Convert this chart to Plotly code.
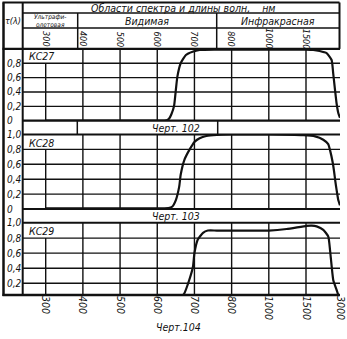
import numpy as np
import plotly.graph_objects as go

# Wavelength marks of the drawing (equally spaced along the axis), nm
NM_TICKS = [300, 400, 500, 600, 700, 800, 1000, 1500, 3000]
NM_LABELS = ["300", "400", "500", "600", "700", "800", "1000", "1500", "3000"]
HEADER_LABELS = ["300", "400", "500", "600", "700", "800", "1000", "1500"]

# Spectral transmittance of the filters
KC27_NM = [300, 600, 625, 632, 638, 645, 650, 654, 663, 677, 695, 714, 760,
           1000, 1500, 1820, 2100, 2410, 2630, 2700, 2780, 2850, 2930, 3000]
KC27_T = [0.0, 0.0, 0.005, 0.03, 0.09, 0.2, 0.43, 0.61, 0.8, 0.915, 0.96, 0.985, 0.99,
          0.99, 0.99, 0.985, 0.97, 0.94, 0.845, 0.66, 0.43, 0.24, 0.1, 0.04]

KC28_NM = [300, 600, 630, 640, 650, 659, 663, 673, 686, 700, 714, 732, 760, 800,
           1000, 1465, 1900, 2263, 2480, 2560, 2680, 2740, 2790, 2853, 2924, 3000]
KC28_T = [0.01, 0.01, 0.012, 0.03, 0.12, 0.3, 0.46, 0.66, 0.79, 0.9, 0.95, 0.98, 0.995, 1.0,
          1.0, 0.99, 0.975, 0.93, 0.87, 0.79, 0.62, 0.5, 0.38, 0.25, 0.12, 0.05]

KC29_NM = [300, 640, 660, 672, 686, 696, 700, 709, 723, 736, 760,
           1000, 1240, 1530, 1750, 1970, 2263, 2484, 2560, 2634, 2704, 2853, 2924, 3000]
KC29_T = [0.0, 0.0, 0.015, 0.06, 0.244, 0.42, 0.6, 0.78, 0.87, 0.9, 0.9,
          0.9, 0.92, 0.962, 0.965, 0.955, 0.91, 0.82, 0.64, 0.42, 0.24, 0.11, 0.045, 0.0]

GRID_T = [0.2, 0.4, 0.6, 0.8]

# ---- page geometry (pixels of the 347 x 339 sheet) ----
W, H = 347, 339
INK = "#111111"
FONT = "Liberation Sans Narrow, DejaVu Sans Condensed, DejaVu Sans, sans-serif"


def px(x):
    return x / W


def py(y):
    return 1 - y / H


X_LEFT, X_RIGHT = 22.7, 340.0          # plotting field between the label column and the edge
X300, X1500 = 45.7, 306.0               # first and last full divisions
STEP = (X1500 - X300) / 7
AXIS_POS = [0, 1, 2, 3, 4, 5, 6, 7, 7 + (X_RIGHT - X1500) / STEP]
X_RANGE = [(X_LEFT - X300) / STEP, AXIS_POS[-1]]


def to_axis(nm):
    return np.interp(nm, NM_TICKS, AXIS_POS)


def fmt(v):
    return "0" if v == 0 else f"{v:.1f}".replace(".", ",")


panels = [
    dict(name="КС27", nm=KC27_NM, t=KC27_T, top=48.9, bottom=120.7, yr=[0, 1.0],
         labels=[0.8, 0.6, 0.4, 0.2, 0.0], name_y=56.5),
    dict(name="КС28", nm=KC28_NM, t=KC28_T, top=134.5, bottom=209.0, yr=[0, 1.0],
         labels=[1.0, 0.8, 0.6, 0.4, 0.2, 0.0], name_y=143.0),
    dict(name="КС29", nm=KC29_NM, t=KC29_T, top=223.0, bottom=295.0, yr=[0.045, 1.0],
         labels=[1.0, 0.8, 0.6, 0.4, 0.2], name_y=231.0),
]

fig = go.Figure()
shapes = []
annotations = []
layout_axes = {}


def ital(size):
    return dict(family=FONT, size=size, color=INK, style="italic")


for i, p in enumerate(panels):
    sfx = "" if i == 0 else str(i + 1)
    xa, ya = "x" + sfx, "y" + sfx
    fig.add_trace(go.Scatter(
        x=to_axis(p["nm"]), y=p["t"], mode="lines",
        line=dict(color=INK, width=2.2, shape="spline", smoothing=0.5),
        xaxis=xa, yaxis=ya, hoverinfo="skip", showlegend=False))

    bottom_axis = i == len(panels) - 1
    layout_axes["xaxis" + sfx] = dict(
        domain=[px(X_LEFT), px(X_RIGHT)], range=X_RANGE, anchor=ya,
        showgrid=False, zeroline=False, showline=False, fixedrange=True,
        showticklabels=bottom_axis, tickvals=AXIS_POS, ticktext=NM_LABELS,
        tickangle=90, ticks="", tickfont=ital(10.5), automargin=False)
    layout_axes["yaxis" + sfx] = dict(
        domain=[py(p["bottom"]), py(p["top"])], range=p["yr"], anchor=xa,
        showgrid=False, zeroline=False, showline=False, showticklabels=False,
        fixedrange=True, automargin=False)

    # grid of the field
    for v in GRID_T:
        shapes.append(dict(type="line", xref=xa, yref=ya, x0=X_RANGE[0], x1=X_RANGE[1],
                           y0=v, y1=v, line=dict(color=INK, width=1.4)))
    for k, pos in enumerate(AXIS_POS[:-1]):
        top = 0.8 if k == 0 else p["yr"][1]
        shapes.append(dict(type="line", xref=xa, yref=ya, x0=pos, x1=pos,
                           y0=p["yr"][0], y1=top, line=dict(color=INK, width=1.4)))

    # transmittance values in the left column
    for v in p["labels"]:
        annotations.append(dict(x=px(4.5), xref="paper", xanchor="left", y=v, yref=ya,
                                yanchor="middle", text=fmt(v), showarrow=False,
                                font=ital(10)))
    annotations.append(dict(x=px(27), xref="paper", xanchor="left", y=py(p["name_y"]),
                            yref="paper", yanchor="middle", text=p["name"],
                            showarrow=False, font=ital(10.5)))


def hline(y, x0, x1, w):
    shapes.append(dict(type="line", xref="paper", yref="paper", x0=px(x0), x1=px(x1),
                       y0=py(y), y1=py(y), line=dict(color=INK, width=w)))


def vline(x, y0, y1, w):
    shapes.append(dict(type="line", xref="paper", yref="paper", x0=px(x), x1=px(x),
                       y0=py(y0), y1=py(y1), line=dict(color=INK, width=w)))


# frame and header table
hline(2.5, 2.5, 339.5, 2)
vline(3.5, 2.5, 296, 2.5)
vline(X_LEFT, 2.5, 296, 2)
vline(339.5, 2.5, 48.9, 2)
hline(13.0, X_LEFT, 339.5, 1.5)
hline(28.0, X_LEFT, 339.5, 1.5)
vline(77.7, 13.0, 48.9, 1.5)
vline(216.7, 13.0, 48.9, 1.5)
hline(48.9, 2.5, X_RIGHT, 2.2)
# panel borders and caption strips
hline(120.7, X_LEFT, X_RIGHT, 2.2)
hline(134.5, X_LEFT, X_RIGHT, 2)
vline(77.3, 120.7, 134.5, 1.5)
vline(217.7, 120.7, 134.5, 1.5)
hline(209.0, X_LEFT, X_RIGHT, 2.2)
hline(222.7, X_LEFT, X_RIGHT, 2)
hline(295.0, 2.5, X_RIGHT, 2.5)


def text(x, y, s, size, **kw):
    annotations.append(dict(x=px(x), y=py(y), xref="paper", yref="paper", text=s,
                            xanchor="center", yanchor="middle",
                            showarrow=False, font=ital(size), **kw))


text(183, 7.8, "Области спектра и длины волн,&nbsp;&nbsp;&nbsp;&nbsp;нм", 10.5)
text(12.5, 20.5, "τ(λ)", 9)
text(49.5, 20.5, "Ультрафи-<br>олетовая", 6.5)
text(147, 20.5, "Видимая", 10.5)
text(278, 20.5, "Инфракрасная", 10.5)
text(176, 127.7, "Черт. 102", 10.5)
text(176, 215.8, "Черт. 103", 10.5)
text(178, 327, "Черт.104", 10.5)

# wavelength marks inside the header
for pos, lab in zip(AXIS_POS, HEADER_LABELS):
    annotations.append(dict(x=pos, xref="x", y=py(38.8), yref="paper", text=lab,
                            xanchor="center", yanchor="middle",
                            textangle=90, showarrow=False, font=ital(9)))

fig.update_layout(
    width=W, height=H, margin=dict(l=0, r=0, t=0, b=0),
    paper_bgcolor="white", plot_bgcolor="rgba(0,0,0,0)",
    showlegend=False, shapes=shapes, annotations=annotations, **layout_axes)

fig.write_html("out.html", config={"displayModeBar": False})
